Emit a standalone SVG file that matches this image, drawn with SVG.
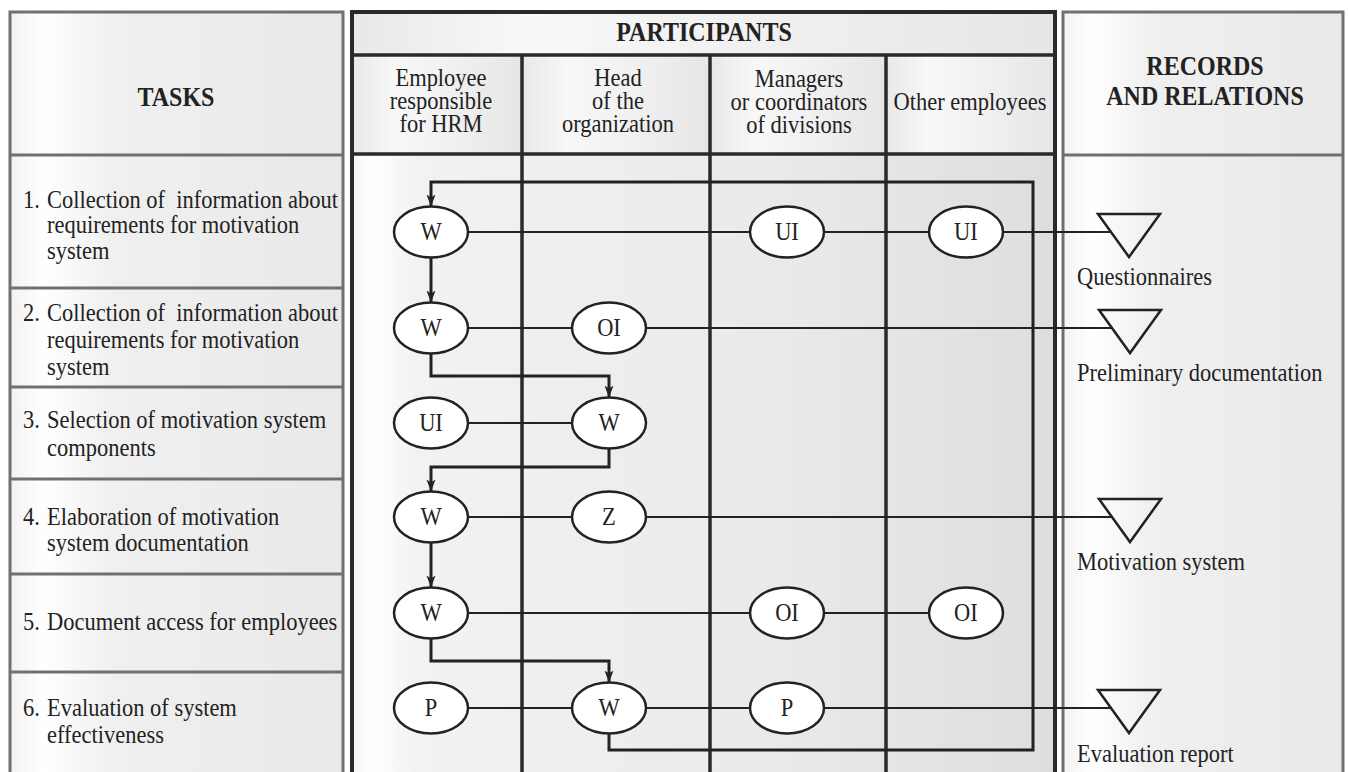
<svg xmlns="http://www.w3.org/2000/svg" width="1348" height="772" viewBox="0 0 1348 772">
<defs>
<style>
.t{font-family:"Liberation Serif","Times New Roman",serif;font-size:22.5px;fill:#222}
.h{font-family:"Liberation Serif","Times New Roman",serif;font-size:24px;font-weight:bold;fill:#222;text-anchor:middle}
.c{text-anchor:middle}
.pre{white-space:pre}
.gbox{fill:url(#gSide);stroke:#707070;stroke-width:3}
.gline{stroke:#707070;stroke-width:3}
.dline{stroke:#2a2a2a;stroke-width:3.5}
.node ellipse{fill:#fff;stroke:#222;stroke-width:2.5}
.link{stroke:#222;stroke-width:2;fill:none}
.flow{stroke:#222;stroke-width:3;fill:none;marker-end:url(#arr)}
.tri{fill:none;stroke:#222;stroke-width:2.5;stroke-linejoin:miter}
</style>
<linearGradient id="gSide" x1="0" y1="0" x2="1" y2="0">
<stop offset="0" stop-color="#f2f2f2"/>
<stop offset="0.1" stop-color="#ffffff"/>
<stop offset="0.3" stop-color="#f0f0f0"/>
<stop offset="1" stop-color="#e9e9e9"/>
</linearGradient>
<linearGradient id="gPart" gradientUnits="userSpaceOnUse" x1="352" y1="0" x2="1055" y2="0">
<stop offset="0" stop-color="#f6f6f6"/>
<stop offset="0.03" stop-color="#ffffff"/>
<stop offset="0.09" stop-color="#f2f2f2"/>
<stop offset="0.6" stop-color="#eaeaea"/>
<stop offset="1" stop-color="#dedede"/>
</linearGradient>
<linearGradient id="gHead" x1="0" y1="0" x2="1" y2="0">
<stop offset="0" stop-color="#e8e8e8"/>
<stop offset="0.25" stop-color="#f8f8f8"/>
<stop offset="0.6" stop-color="#f0f0f0"/>
<stop offset="1" stop-color="#e6e6e6"/>
</linearGradient>
<marker id="arr" viewBox="0 0 12 10" refX="12" refY="5" markerWidth="12" markerHeight="10" markerUnits="userSpaceOnUse" orient="auto">
<path d="M0,0.5 L12,5 L0,9.5 L3,5 Z" fill="#222"/>
</marker>
</defs>

<rect x="0" y="0" width="1348" height="772" fill="#ffffff"/>

<g id="tasks-column">
<rect class="gbox" x="10" y="12" width="333" height="790"/>
<line class="gline" x1="10" y1="155" x2="343" y2="155"/>
<line class="gline" x1="10" y1="288" x2="343" y2="288"/>
<line class="gline" x1="10" y1="387" x2="343" y2="387"/>
<line class="gline" x1="10" y1="479" x2="343" y2="479"/>
<line class="gline" x1="10" y1="574" x2="343" y2="574"/>
<line class="gline" x1="10" y1="672" x2="343" y2="672"/>
<text class="h" x="176" y="106" transform="matrix(1 0 0 1.12 0 -12.72)">TASKS</text>
<text class="t pre" y="208" transform="matrix(1 0 0 1.12 0 -24.96)"><tspan x="23">1.</tspan><tspan x="47">Collection of  information about</tspan></text>
<text class="t" x="47" y="233" transform="matrix(1 0 0 1.12 0 -27.96)">requirements for motivation</text>
<text class="t" x="47" y="259" transform="matrix(1 0 0 1.12 0 -31.08)">system</text>
<text class="t pre" y="321" transform="matrix(1 0 0 1.12 0 -38.52)"><tspan x="23">2.</tspan><tspan x="47">Collection of  information about</tspan></text>
<text class="t" x="47" y="348" transform="matrix(1 0 0 1.12 0 -41.76)">requirements for motivation</text>
<text class="t" x="47" y="375" transform="matrix(1 0 0 1.12 0 -45)">system</text>
<text class="t" y="428" transform="matrix(1 0 0 1.12 0 -51.36)"><tspan x="23">3.</tspan><tspan x="47">Selection of motivation system</tspan></text>
<text class="t" x="47" y="456" transform="matrix(1 0 0 1.12 0 -54.72)">components</text>
<text class="t" y="525" transform="matrix(1 0 0 1.12 0 -63)"><tspan x="23">4.</tspan><tspan x="47">Elaboration of motivation</tspan></text>
<text class="t" x="47" y="551" transform="matrix(1 0 0 1.12 0 -66.12)">system documentation</text>
<text class="t" y="630" transform="matrix(1 0 0 1.12 0 -75.6)"><tspan x="23">5.</tspan><tspan x="47">Document access for employees</tspan></text>
<text class="t" y="716" transform="matrix(1 0 0 1.12 0 -85.92)"><tspan x="23">6.</tspan><tspan x="47">Evaluation of system</tspan></text>
<text class="t" x="47" y="743" transform="matrix(1 0 0 1.12 0 -89.16)">effectiveness</text>
</g>

<g id="participants-column">
<rect x="352" y="12" width="703" height="790" fill="url(#gPart)"/>
<rect x="352" y="12" width="703" height="43" fill="url(#gHead)"/>
<rect x="352" y="55" width="170" height="99" fill="url(#gHead)"/>
<rect x="522" y="55" width="188" height="99" fill="url(#gHead)"/>
<rect x="710" y="55" width="176" height="99" fill="url(#gHead)"/>
<rect x="886" y="55" width="169" height="99" fill="url(#gHead)"/>
<rect x="352" y="12" width="703" height="790" fill="none" stroke="#2a2a2a" stroke-width="4"/>
<line class="dline" x1="352" y1="55" x2="1055" y2="55"/>
<line class="dline" x1="352" y1="154" x2="1055" y2="154"/>
<line class="dline" x1="522" y1="55" x2="522" y2="790"/>
<line class="dline" x1="710" y1="55" x2="710" y2="790"/>
<line class="dline" x1="886" y1="55" x2="886" y2="790"/>
<text class="h" x="704" y="41" transform="matrix(1 0 0 1.12 0 -4.92)">PARTICIPANTS</text>
<text class="t c" x="441" y="86" transform="matrix(1 0 0 1.12 0 -10.32)">Employee</text>
<text class="t c" x="441" y="109" transform="matrix(1 0 0 1.12 0 -13.08)">responsible</text>
<text class="t c" x="441" y="132" transform="matrix(1 0 0 1.12 0 -15.84)">for HRM</text>
<text class="t c" x="618" y="86" transform="matrix(1 0 0 1.12 0 -10.32)">Head</text>
<text class="t c" x="618" y="109" transform="matrix(1 0 0 1.12 0 -13.08)">of the</text>
<text class="t c" x="618" y="132" transform="matrix(1 0 0 1.12 0 -15.84)">organization</text>
<text class="t c" x="799" y="87" transform="matrix(1 0 0 1.12 0 -10.44)">Managers</text>
<text class="t c" x="799" y="110" transform="matrix(1 0 0 1.12 0 -13.2)">or coordinators</text>
<text class="t c" x="799" y="133" transform="matrix(1 0 0 1.12 0 -15.96)">of divisions</text>
<text class="t c" x="970" y="110" transform="matrix(1 0 0 1.12 0 -13.2)">Other employees</text>
</g>

<g id="records-column">
<rect class="gbox" x="1063" y="12" width="280" height="790"/>
<line class="gline" x1="1063" y1="155" x2="1343" y2="155"/>
<text class="h" x="1205" y="75" transform="matrix(1 0 0 1.12 0 -9)">RECORDS</text>
<text class="h" x="1205" y="105" transform="matrix(1 0 0 1.12 0 -12.6)">AND RELATIONS</text>
</g>

<g id="connectors">
<path class="link" d="M468,232 H750 M824,232 H929 M1003,232 H1111"/>
<path class="link" d="M468,328 H572 M646,328 H1111"/>
<path class="link" d="M468,423 H572"/>
<path class="link" d="M468,517 H572 M646,517 H1111"/>
<path class="link" d="M468,613 H750 M824,613 H929"/>
<path class="link" d="M468,708 H572 M646,708 H750 M824,708 H1111"/>
<path class="flow" d="M609,733.5 V750 H1033 V182 H431 V206.5"/>
<path class="flow" d="M431,257.5 V302.5"/>
<path class="flow" d="M431,353.5 V376 H609 V397.5"/>
<path class="flow" d="M609,448.5 V467 H431 V491.5"/>
<path class="flow" d="M431,542.5 V587.5"/>
<path class="flow" d="M431,638.5 V661 H609 V682.5"/>
</g>

<g id="r1-w" class="node"><ellipse cx="431" cy="232" rx="37" ry="25.5"/><text class="t c" x="431" y="240" transform="matrix(1 0 0 1.12 0 -28.8)">W</text></g>
<g id="r1-ui-managers" class="node"><ellipse cx="787" cy="232" rx="37" ry="25.5"/><text class="t c" x="787" y="240" transform="matrix(1 0 0 1.12 0 -28.8)">UI</text></g>
<g id="r1-ui-others" class="node"><ellipse cx="966" cy="232" rx="37" ry="25.5"/><text class="t c" x="966" y="240" transform="matrix(1 0 0 1.12 0 -28.8)">UI</text></g>
<g id="r2-w" class="node"><ellipse cx="431" cy="328" rx="37" ry="25.5"/><text class="t c" x="431" y="336" transform="matrix(1 0 0 1.12 0 -40.32)">W</text></g>
<g id="r2-oi" class="node"><ellipse cx="609" cy="328" rx="37" ry="25.5"/><text class="t c" x="609" y="336" transform="matrix(1 0 0 1.12 0 -40.32)">OI</text></g>
<g id="r3-ui" class="node"><ellipse cx="431" cy="423" rx="37" ry="25.5"/><text class="t c" x="431" y="431" transform="matrix(1 0 0 1.12 0 -51.72)">UI</text></g>
<g id="r3-w" class="node"><ellipse cx="609" cy="423" rx="37" ry="25.5"/><text class="t c" x="609" y="431" transform="matrix(1 0 0 1.12 0 -51.72)">W</text></g>
<g id="r4-w" class="node"><ellipse cx="431" cy="517" rx="37" ry="25.5"/><text class="t c" x="431" y="525" transform="matrix(1 0 0 1.12 0 -63)">W</text></g>
<g id="r4-z" class="node"><ellipse cx="609" cy="517" rx="37" ry="25.5"/><text class="t c" x="609" y="525" transform="matrix(1 0 0 1.12 0 -63)">Z</text></g>
<g id="r5-w" class="node"><ellipse cx="431" cy="613" rx="37" ry="25.5"/><text class="t c" x="431" y="621" transform="matrix(1 0 0 1.12 0 -74.52)">W</text></g>
<g id="r5-oi-managers" class="node"><ellipse cx="787" cy="613" rx="37" ry="25.5"/><text class="t c" x="787" y="621" transform="matrix(1 0 0 1.12 0 -74.52)">OI</text></g>
<g id="r5-oi-others" class="node"><ellipse cx="966" cy="613" rx="37" ry="25.5"/><text class="t c" x="966" y="621" transform="matrix(1 0 0 1.12 0 -74.52)">OI</text></g>
<g id="r6-p-hrm" class="node"><ellipse cx="431" cy="708" rx="37" ry="25.5"/><text class="t c" x="431" y="716" transform="matrix(1 0 0 1.12 0 -85.92)">P</text></g>
<g id="r6-w" class="node"><ellipse cx="609" cy="708" rx="37" ry="25.5"/><text class="t c" x="609" y="716" transform="matrix(1 0 0 1.12 0 -85.92)">W</text></g>
<g id="r6-p-managers" class="node"><ellipse cx="787" cy="708" rx="37" ry="25.5"/><text class="t c" x="787" y="716" transform="matrix(1 0 0 1.12 0 -85.92)">P</text></g>

<g id="rec-questionnaires"><polygon class="tri" points="1098,214 1160,214 1129,257"/><text class="t" x="1077" y="285" transform="matrix(1 0 0 1.12 0 -34.2)">Questionnaires</text></g>
<g id="rec-preliminary"><polygon class="tri" points="1099,310 1161,310 1130,353"/><text class="t" x="1077" y="381" transform="matrix(1 0 0 1.12 0 -45.72)">Preliminary documentation</text></g>
<g id="rec-motivation"><polygon class="tri" points="1099,499 1161,499 1130,542"/><text class="t" x="1077" y="570" transform="matrix(1 0 0 1.12 0 -68.4)">Motivation system</text></g>
<g id="rec-evaluation"><polygon class="tri" points="1098,690 1160,690 1129,733"/><text class="t" x="1077" y="762" transform="matrix(1 0 0 1.12 0 -91.44)">Evaluation report</text></g>
</svg>
